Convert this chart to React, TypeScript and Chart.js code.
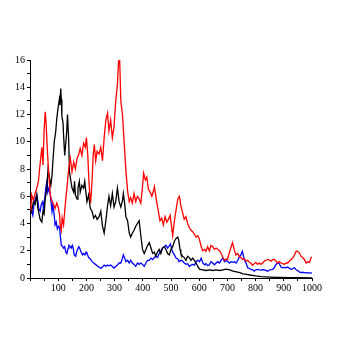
import React, { useEffect, useRef } from "react";
import { Chart, registerables } from "chart.js";

Chart.register(...registerables);

const redX = [0,3,6,12,18,24,30,34,42,46,50,54,57,62,66,72,78,84,89,95,101,105,107,111,114,119,123,127,131,137,143,149,155,161,167,172,178,184,190,196,200,205,208,212,215,220,224,228,233,238,245,251,257,263,269,275,280,286,292,298,304,310,314,318,322,328,334,340,346,352,357,363,369,375,381,387,393,398,403,409,414,420,426,432,438,441,444,450,456,461,467,473,479,485,491,497,503,506,512,518,524,530,535,541,547,553,559,565,571,577,583,589,595,600,606,612,619,624,630,636,642,648,654,660,666,672,678,684,690,696,700,706,712,718,724,730,736,742,748,754,760,766,772,778,783,789,795,801,807,813,819,825,831,837,843,849,855,860,866,872,878,884,890,896,902,908,914,920,926,932,938,944,949,955,961,967,973,979,985,991,997,1000];
const redY = [5.0,5.1,6.1,5.7,6.2,6.6,7.1,8.0,9.6,8.3,10.8,12.2,11.4,9.2,7.8,6.1,5.6,5.4,5.1,5.5,5.1,4.6,3.9,3.5,4.4,3.9,4.9,5.8,6.6,8.0,8.8,7.8,8.5,8.0,8.8,9.0,9.5,9.0,9.9,9.6,10.3,9.0,7.5,6.1,5.5,7.1,9.0,9.8,8.6,9.3,9.1,9.6,8.6,10.3,11.6,12.1,10.8,11.6,10.3,11.1,13.0,14.2,15.9,16.0,13.0,12.0,9.9,7.9,6.4,5.6,5.9,5.5,6.2,5.6,6.0,5.8,5.5,6.5,7.7,7.2,7.4,6.5,6.3,6.0,6.4,6.7,6.3,5.5,4.8,4.2,4.4,3.9,4.5,4.1,4.3,4.6,3.6,3.1,4.2,5.0,5.8,6.0,5.3,4.8,4.3,4.5,4.0,3.7,3.5,3.4,3.2,3.0,3.1,2.9,2.4,2.0,2.1,1.95,2.3,2.0,2.4,2.3,2.1,2.2,2.1,2.0,1.8,1.5,1.3,1.4,1.36,1.8,2.2,2.6,2.1,1.7,1.8,1.6,1.5,1.36,1.4,1.24,1.3,1.15,1.1,0.94,1.05,1.15,1.0,1.1,1.0,1.1,1.24,1.3,1.36,1.3,1.24,1.35,1.36,1.25,1.1,1.2,1.1,1.05,1.0,1.1,1.1,1.25,1.36,1.5,1.7,1.97,1.95,1.85,1.6,1.5,1.36,1.1,1.2,1.15,1.5,1.55];

const blackX = [0,3,6,12,18,24,28,33,36,42,46,50,54,60,64,68,74,78,81,86,91,95,99,104,106,109,111,113,117,119,123,126,130,133,137,140,145,149,155,158,161,167,170,175,178,184,190,194,198,202,208,214,220,226,232,238,245,251,257,263,269,275,280,286,292,298,304,310,316,322,328,331,336,340,346,352,357,363,369,375,381,387,393,399,405,411,417,423,429,435,441,446,452,458,464,470,476,482,488,494,500,506,512,518,524,527,532,535,541,547,553,559,565,571,577,583,589,595,601,612,624,636,648,660,672,684,696,708,720,732,744,756,768,780,800,820,850,880,920,960,1000];
const blackY = [5.0,5.2,4.9,5.6,5.4,6.1,5.1,4.6,4.3,4.1,4.9,4.7,5.8,6.6,8.0,7.5,6.8,7.5,8.5,10.0,10.7,11.7,12.4,13.1,12.7,13.9,13.1,11.9,11.4,10.5,9.0,9.7,10.7,12.0,10.2,7.8,7.1,6.6,6.3,7.1,6.1,5.8,6.6,7.1,6.3,6.8,6.6,7.1,6.3,5.6,6.1,5.1,4.9,4.4,4.6,4.3,4.5,4.9,3.8,3.3,4.2,5.3,6.0,5.3,6.2,5.2,5.6,6.6,5.6,5.2,5.7,6.2,5.4,4.5,4.2,3.3,3.0,3.3,3.5,3.8,4.0,4.2,3.1,2.1,1.8,2.1,2.4,2.6,2.2,1.8,1.9,1.6,1.9,2.1,1.8,2.2,2.3,2.1,1.8,1.7,2.1,2.3,2.7,2.9,3.0,2.8,2.1,1.8,1.6,1.5,1.3,1.6,1.5,1.3,1.46,1.3,1.1,0.85,0.65,0.6,0.55,0.6,0.55,0.6,0.55,0.6,0.65,0.6,0.5,0.45,0.39,0.3,0.27,0.22,0.15,0.1,0.07,0.05,0.03,0.02,0.01];

const blueX = [0,3,6,10,15,19,24,28,31,36,40,45,48,52,56,60,63,67,72,78,81,86,89,93,97,101,105,107,111,116,119,123,127,131,135,138,143,146,150,153,157,162,165,169,173,176,181,186,190,195,199,202,208,214,220,226,232,238,245,251,257,263,269,275,280,286,292,298,304,310,316,322,328,331,336,340,346,352,357,363,369,375,381,387,393,399,405,411,417,423,429,435,441,446,452,458,464,470,476,482,488,494,498,503,506,512,518,524,529,535,541,547,553,559,565,571,577,583,589,595,601,607,613,619,624,630,636,642,648,654,660,666,672,678,684,690,696,702,707,713,719,725,731,737,743,748,753,757,761,766,772,778,783,790,795,801,807,813,819,826,832,843,850,856,862,866,872,878,884,890,896,902,908,914,920,926,932,938,944,949,955,961,967,973,979,985,991,1000];
const blueY = [5.0,5.1,4.9,4.6,5.6,5.8,6.1,5.6,5.1,4.9,5.4,5.6,5.1,5.8,6.6,7.1,6.3,6.6,6.1,4.9,5.4,4.6,3.9,4.1,3.6,3.8,3.7,3.2,2.4,2.3,2.2,2.3,1.9,1.8,2.2,2.4,2.3,2.2,2.4,2.2,1.7,1.6,1.9,2.1,2.3,2.2,1.9,1.7,1.8,1.7,1.9,1.8,1.5,1.4,1.2,1.1,1.0,0.9,0.8,0.7,0.8,0.95,0.85,0.95,0.9,0.95,0.85,0.73,0.85,0.95,1.1,1.1,1.46,1.7,1.45,1.2,1.3,1.1,1.3,1.1,1.0,0.85,1.1,1.0,1.1,1.0,0.85,1.1,1.3,1.3,1.46,1.35,1.5,1.6,1.5,1.8,2.0,2.2,2.3,2.4,2.2,2.35,2.5,2.1,1.9,1.7,1.46,1.4,1.2,1.3,1.25,1.1,1.0,1.05,0.85,0.95,1.0,0.95,1.2,1.3,1.2,1.46,1.1,0.97,1.05,0.9,0.97,1.2,1.1,0.97,1.1,1.2,1.1,1.33,1.46,1.2,1.3,1.2,1.1,1.2,1.15,1.2,1.1,1.3,1.58,1.7,1.95,1.6,1.3,1.1,0.75,0.7,0.63,0.6,0.5,0.6,0.63,0.6,0.58,0.62,0.6,0.5,0.6,0.62,0.65,0.75,1.0,1.1,1.05,0.8,0.75,0.78,0.75,0.8,0.72,0.63,0.7,0.75,0.6,0.55,0.45,0.39,0.42,0.4,0.38,0.39,0.36,0.37];

const yTickLabels = [0, 2, 4, 6, 8, 10, 12, 14, 16];
const xTickLabels = [100, 200, 300, 400, 500, 600, 700, 800, 900, 1000];

function pts(xs: number[], ys: number[]) {
  return xs.map((x, i) => ({ x, y: ys[i] }));
}

export default function App() {
  const ref = useRef<HTMLCanvasElement>(null);
  useEffect(() => {
    if (!ref.current) return;
    const font = { family: "'Liberation Serif', 'DejaVu Serif', serif", size: 10 };
    const chart = new Chart(ref.current, {
      type: "line",
      data: {
        datasets: [
          { data: pts(redX, redY), borderColor: "#ff0000", borderWidth: 1.3, pointRadius: 0, tension: 0 },
          { data: pts(blackX, blackY), borderColor: "#000000", borderWidth: 1.3, pointRadius: 0, tension: 0 },
          { data: pts(blueX, blueY), borderColor: "#0000ff", borderWidth: 1.3, pointRadius: 0, tension: 0 },
        ],
      },
      options: {
        animation: false,
        responsive: false,
        devicePixelRatio: 1,
        layout: { padding: { top: 60, left: 0, right: 34, bottom: 48 } },
        plugins: { legend: { display: false }, tooltip: { enabled: false } },
        scales: {
          x: {
            type: "linear",
            min: 0,
            max: 1000,
            afterFit: (s: any) => { s.height = 20; },
            border: { display: true, color: "#000", width: 1 },
            grid: { display: true, drawOnChartArea: false, drawTicks: true, tickLength: 3, color: "#000" },
            ticks: {
              stepSize: 50,
              autoSkip: false,
              maxRotation: 0,
              padding: 1,
              color: "#000",
              font,
              callback: (v: any) => (xTickLabels.includes(Number(v)) ? String(v) : ""),
            },
          },
          y: {
            type: "linear",
            min: 0,
            max: 16,
            afterFit: (s: any) => { s.width = 30; },
            border: { display: true, color: "#000", width: 1 },
            grid: { display: true, drawOnChartArea: false, drawTicks: true, tickLength: 3, color: "#000" },
            ticks: {
              stepSize: 1,
              autoSkip: false,
              padding: 2,
              color: "#000",
              font,
              callback: (v: any) => (yTickLabels.includes(Number(v)) ? String(v) : ""),
            },
          },
        },
      } as any,
    });
    return () => chart.destroy();
  }, []);
  return (
    <div style={{ position: "absolute", left: 0, top: 0, width: 346, height: 346, background: "#fff" }}>
      <canvas ref={ref} width={346} height={346} style={{ width: 346, height: 346 }} />
    </div>
  );
}
